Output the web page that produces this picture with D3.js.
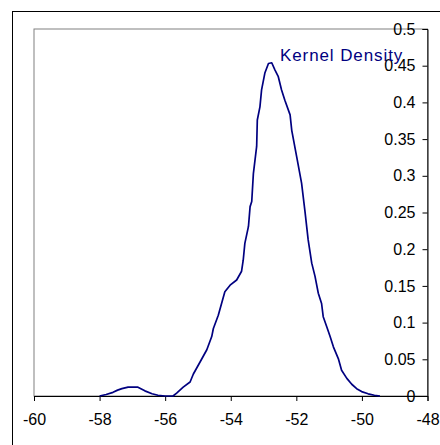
<!DOCTYPE html>
<html>
<head>
<meta charset="utf-8">
<script src="https://cdn.jsdelivr.net/npm/d3@7"></script>
<style>
  html, body { margin: 0; padding: 0; background: #fff; }
  svg { display: block; font-family: "Liberation Sans", Arial, sans-serif; }
</style>
</head>
<body>
<svg id="chart" width="440" height="445"></svg>
<script>
// kernel density estimate
var gridX = [-58.00, -57.80, -57.59, -57.45, -57.32, -57.13, -56.98, -56.83, -56.62, -56.40, -56.22, -56.00,
    -55.76, -55.65, -55.45, -55.24, -55.14, -54.94, -54.73, -54.58, -54.53, -54.38, -54.28, -54.18,
    -54.02, -53.82, -53.67, -53.62, -53.57, -53.46, -53.41, -53.36, -53.31, -53.21, -53.19, -53.11,
    -53.06, -52.96, -52.85, -52.75, -52.65, -52.55, -52.45, -52.35, -52.19, -52.14, -51.99, -51.84,
    -51.74, -51.64, -51.53, -51.43, -51.33, -51.23, -51.18, -51.07, -50.97, -50.87, -50.72, -50.62,
    -50.46, -50.31, -50.16, -50.01, -49.81, -49.62, -49.45];
var density = [0.000, 0.002, 0.005, 0.008, 0.010, 0.012, 0.012, 0.012, 0.007, 0.003, 0.001, 0.000,
    0.000, 0.004, 0.012, 0.019, 0.030, 0.046, 0.063, 0.081, 0.092, 0.110, 0.126, 0.142,
    0.151, 0.158, 0.170, 0.185, 0.208, 0.231, 0.258, 0.265, 0.303, 0.340, 0.376, 0.394,
    0.417, 0.440, 0.453, 0.454, 0.444, 0.435, 0.417, 0.403, 0.383, 0.362, 0.326, 0.290,
    0.253, 0.213, 0.181, 0.163, 0.140, 0.126, 0.108, 0.094, 0.081, 0.067, 0.051, 0.035,
    0.024, 0.016, 0.010, 0.006, 0.003, 0.001, 0.000];

var xTicks = [-60, -58, -56, -54, -52, -50, -48];
var yTicks = [0, 0.05, 0.1, 0.15, 0.2, 0.25, 0.3, 0.35, 0.4, 0.45, 0.5];
var yTickLabels = ["0", "0.05", "0.1", "0.15", "0.2", "0.25", "0.3", "0.35", "0.4", "0.45", "0.5"];
var seriesName = "Kernel Density";

var svg = d3.select("#chart");

var x = d3.scaleLinear().domain([-60, -48]).range([34, 427.5]);
var y = d3.scaleLinear().domain([0, 0.5]).range([396, 29]);

// outer chart frame
svg.append("rect").attr("x", 12.5).attr("y", 11.5).attr("width", 460).attr("height", 460)
    .attr("fill", "none").attr("stroke", "#000").attr("stroke-width", 1);

// plot area border (grey)
svg.append("rect").attr("x", x(-60)).attr("y", y(0.5))
    .attr("width", x(-48) - x(-60)).attr("height", y(0) - y(0.5))
    .attr("fill", "none").attr("stroke", "#808080").attr("stroke-width", 1);

// x axis along the bottom
var xAxis = d3.axisBottom(x).tickValues(xTicks).tickSize(5).tickPadding(13)
    .tickFormat(function(d){ return d; });
var gx = svg.append("g").attr("transform", "translate(0," + y(0) + ")").call(xAxis);
gx.select(".domain").attr("stroke", "#000");
gx.selectAll(".tick line").attr("stroke", "#000");
gx.selectAll("text").attr("font-size", "16px").attr("fill", "#000")
    .attr("font-family", "Liberation Sans, Arial, sans-serif");

// y axis on the right, labels on its left
var yAxis = d3.axisLeft(y).tickValues(yTicks).tickSize(5).tickPadding(7)
    .tickFormat(function(d, i){ return yTickLabels[i]; });
var gy = svg.append("g").attr("transform", "translate(" + x(-48) + ",0)").call(yAxis);
gy.select(".domain").attr("stroke", "#000");
gy.selectAll(".tick line").attr("stroke", "#000");
gy.selectAll("text").attr("font-size", "16px").attr("fill", "#000")
    .attr("font-family", "Liberation Sans, Arial, sans-serif");

// density line
var pts = gridX.map(function(v, i){ return [v, density[i]]; });
var line = d3.line().x(function(d){ return x(d[0]); }).y(function(d){ return y(d[1]); });
svg.append("path").datum(pts).attr("d", line)
    .attr("fill", "none").attr("stroke", "#000080").attr("stroke-width", 1.7)
    .attr("stroke-linejoin", "round");

// series label
svg.append("text").attr("x", 280).attr("y", 60.5)
    .attr("font-size", "17px").attr("letter-spacing", "0.9px")
    .attr("fill", "#000080").text(seriesName);
</script>
</body>
</html>
